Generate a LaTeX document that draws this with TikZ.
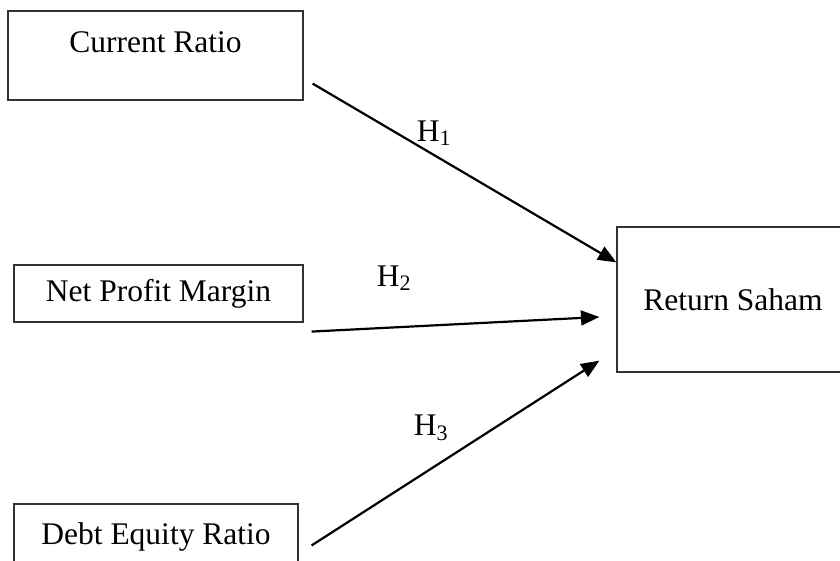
\documentclass[tikz,border=0pt]{standalone}
\usepackage{fontspec}
\setmainfont{Liberation Serif}
\usetikzlibrary{arrows.meta,positioning}
\tikzset{
  var/.style={draw=black!80,line width=0.8pt,inner sep=0pt,align=center,
              font=\fontsize{22.4}{26}\selectfont},
  arr/.style={-{Triangle[length=0.46cm,width=0.37cm]},line width=0.055cm},
  hyp/.style={inner sep=0pt,font=\fontsize{22.4}{26}\selectfont},
}

\begin{document}
\begin{tikzpicture}[x=0.025cm,y=-0.025cm]
    \useasboundingbox (0,0) rectangle (840,560);
    \clip (0,0) rectangle (840,560);
    \node[var,minimum width=7.375cm,minimum height=2.225cm,
          text height=0.525cm,text depth=0.7cm] (cr) at (155.5,55.5) {Current Ratio};
    \node[var,minimum width=7.225cm,minimum height=1.425cm] (npm) at (158.5,293.5) {Net Profit Margin};
    \node[var,minimum width=7.1cm,minimum height=1.65cm] (der) at (156,537) {Debt Equity Ratio};
    \node[var,minimum width=5.8cm,minimum height=3.625cm] (rs) at (733,299.5) {Return Saham};
    % hypothesis arrows
    \draw[arr] ([shift={(9,-17)}]cr.south east) -- ([shift={(0,36)}]rs.north west);
    \draw[arr] ([shift={(8,9)}]npm.south east) -- ([shift={(-17,17.5)}]rs.west);
    \draw[arr] ([shift={(13,42)}]der.north east) -- ([shift={(-17,-12)}]rs.south west);
    \node[hyp] (h1) at (434,133) {H\textsubscript{1}};
    \node[hyp] (h2) at (394,278) {H\textsubscript{2}};
    \node[hyp] (h3) at (431,428) {H\textsubscript{3}};
  \end{tikzpicture}
\end{document}
